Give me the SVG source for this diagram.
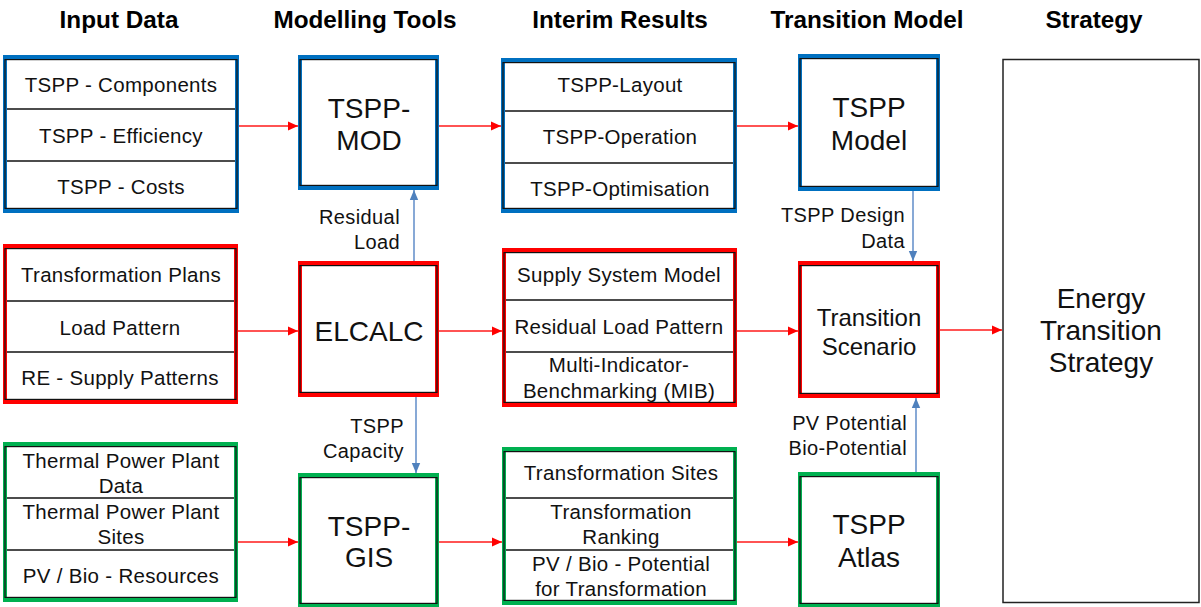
<svg xmlns="http://www.w3.org/2000/svg" width="1201" height="607" viewBox="0 0 1201 607">
  <style>
    .hdr { font-family: "Liberation Sans", Arial, sans-serif; font-weight: bold; font-size: 24.3px; fill: #000; text-anchor: middle; }
    .row { font-family: "Liberation Sans", Arial, sans-serif; font-size: 20.5px; letter-spacing: 0.3px; fill: #111; text-anchor: middle; }
    .big { font-family: "Liberation Sans", Arial, sans-serif; font-size: 28px; fill: #111; text-anchor: middle; }
    .mid { font-family: "Liberation Sans", Arial, sans-serif; font-size: 24px; fill: #111; text-anchor: middle; }
    .lbl { font-family: "Liberation Sans", Arial, sans-serif; font-size: 20px; letter-spacing: 0.4px; fill: #111; text-anchor: end; }
    .frame { fill: #fff; stroke-width: 4; }
    .inner { fill: none; stroke: #111; stroke-width: 1.2; }
    .div { stroke: #111; stroke-width: 1.3; }
    .blue { stroke: #0070C0; }
    .red { stroke: #FF0000; }
    .green { stroke: #00B050; }
    .flow { stroke: #FF1A1A; stroke-width: 1.4; fill: none; marker-end: url(#redHead); }
    .feed { stroke: #5585C5; stroke-width: 1.4; fill: none; marker-end: url(#blueHead); }
  </style>
  <defs>
    <marker id="redHead" markerUnits="userSpaceOnUse" markerWidth="12" markerHeight="10" refX="10" refY="5" orient="auto">
      <path d="M0,0.5 L10,5 L0,9.5 Z" fill="#FF0000"/>
    </marker>
    <marker id="blueHead" markerUnits="userSpaceOnUse" markerWidth="12" markerHeight="10" refX="10" refY="5" orient="auto">
      <path d="M0,0.8 L10,5 L0,9.2 Z" fill="#4F81BD"/>
    </marker>
  </defs>

  <rect width="1201" height="607" fill="#fff"/>

  <!-- column headings -->
  <g id="headings">
    <text class="hdr" x="119" y="28">Input Data</text>
    <text class="hdr" x="365" y="28">Modelling Tools</text>
    <text class="hdr" x="620" y="28">Interim Results</text>
    <text class="hdr" x="867" y="28">Transition Model</text>
    <text class="hdr" x="1094" y="28">Strategy</text>
  </g>

  <!-- connectors -->
  <g id="connectors">
    <line class="flow" x1="239" y1="126" x2="298" y2="126"/>
    <line class="flow" x1="439" y1="126" x2="501" y2="126"/>
    <line class="flow" x1="737" y1="126" x2="798" y2="126"/>
    <line class="flow" x1="238" y1="331" x2="298" y2="331"/>
    <line class="flow" x1="439" y1="331" x2="502" y2="331"/>
    <line class="flow" x1="737" y1="331" x2="798" y2="331"/>
    <line class="flow" x1="940" y1="330" x2="1002" y2="330"/>
    <line class="flow" x1="238" y1="542" x2="298" y2="542"/>
    <line class="flow" x1="439" y1="542" x2="502" y2="542"/>
    <line class="flow" x1="737" y1="542" x2="798" y2="542"/>
    <line class="feed" x1="414" y1="261" x2="414" y2="190"/>
    <line class="feed" x1="416" y1="397" x2="416" y2="473"/>
    <line class="feed" x1="913" y1="191" x2="913" y2="261"/>
    <line class="feed" x1="916" y1="472" x2="916" y2="398"/>
    <text class="lbl" x="400" y="224">Residual</text>
    <text class="lbl" x="400" y="249">Load</text>
    <text class="lbl" x="404" y="433">TSPP</text>
    <text class="lbl" x="404" y="458">Capacity</text>
    <text class="lbl" x="905" y="222">TSPP Design</text>
    <text class="lbl" x="905" y="248">Data</text>
    <text class="lbl" x="907" y="430">PV Potential</text>
    <text class="lbl" x="907" y="455">Bio-Potential</text>
  </g>

  <!-- blue row -->
  <g id="tspp-input">
    <rect class="frame blue" x="5" y="57" width="232" height="154"/>
    <rect class="inner" x="5" y="59.6" width="232" height="148.8"/>
    <line class="div" x1="7" y1="109" x2="235" y2="109"/>
    <line class="div" x1="7" y1="161" x2="235" y2="161"/>
    <text class="row" x="121" y="92">TSPP - Components</text>
    <text class="row" x="121" y="143">TSPP - Efficiency</text>
    <text class="row" x="121" y="194">TSPP - Costs</text>
  </g>
  <g id="tspp-mod">
    <rect class="frame blue" x="300" y="57" width="137" height="131"/>
    <rect class="inner" x="300" y="59.6" width="137" height="125.8"/>
    <text class="big" x="369" y="118">TSPP-</text>
    <text class="big" x="369" y="150">MOD</text>
  </g>
  <g id="tspp-results">
    <rect class="frame blue" x="503" y="60" width="232" height="151"/>
    <rect class="inner" x="503" y="62.6" width="232" height="145.8"/>
    <line class="div" x1="505" y1="111" x2="733" y2="111"/>
    <line class="div" x1="505" y1="163" x2="733" y2="163"/>
    <text class="row" x="620" y="92">TSPP-Layout</text>
    <text class="row" x="620" y="144">TSPP-Operation</text>
    <text class="row" x="620" y="196">TSPP-Optimisation</text>
  </g>
  <g id="tspp-model">
    <rect class="frame blue" x="800" y="56" width="138" height="133"/>
    <rect class="inner" x="800" y="58.6" width="138" height="127.8"/>
    <text class="big" x="869" y="117">TSPP</text>
    <text class="big" x="869" y="150">Model</text>
  </g>

  <!-- red row -->
  <g id="load-input">
    <rect class="frame red" x="5" y="246" width="231" height="156"/>
    <rect class="inner" x="5" y="248.6" width="231" height="150.8"/>
    <line class="div" x1="7" y1="301" x2="234" y2="301"/>
    <line class="div" x1="7" y1="352" x2="234" y2="352"/>
    <text class="row" x="121" y="282">Transformation Plans</text>
    <text class="row" x="120" y="335">Load Pattern</text>
    <text class="row" x="120" y="385">RE - Supply Patterns</text>
  </g>
  <g id="elcalc">
    <rect class="frame red" x="300" y="263" width="137" height="132"/>
    <rect class="inner" x="300" y="265.6" width="137" height="126.8"/>
    <text class="big" x="369" y="341">ELCALC</text>
  </g>
  <g id="load-results">
    <rect class="frame red" x="504" y="250" width="231" height="155"/>
    <rect class="inner" x="504" y="252.6" width="231" height="149.8"/>
    <line class="div" x1="506" y1="300" x2="733" y2="300"/>
    <line class="div" x1="506" y1="352" x2="733" y2="352"/>
    <text class="row" x="619" y="282">Supply System Model</text>
    <text class="row" x="619" y="334">Residual Load Pattern</text>
    <text class="row" x="619" y="372">Multi-Indicator-</text>
    <text class="row" x="619" y="398">Benchmarking (MIB)</text>
  </g>
  <g id="transition-scenario">
    <rect class="frame red" x="800" y="263" width="138" height="133"/>
    <rect class="inner" x="800" y="265.6" width="138" height="127.8"/>
    <text class="mid" x="869" y="326">Transition</text>
    <text class="mid" x="869" y="355">Scenario</text>
  </g>

  <!-- green row -->
  <g id="site-input">
    <rect class="frame green" x="5" y="444" width="231" height="156"/>
    <rect class="inner" x="5" y="446.6" width="231" height="150.8"/>
    <line class="div" x1="7" y1="498" x2="234" y2="498"/>
    <line class="div" x1="7" y1="550" x2="234" y2="550"/>
    <text class="row" x="121" y="468">Thermal Power Plant</text>
    <text class="row" x="121" y="493">Data</text>
    <text class="row" x="121" y="519">Thermal Power Plant</text>
    <text class="row" x="121" y="544">Sites</text>
    <text class="row" x="121" y="583">PV / Bio - Resources</text>
  </g>
  <g id="tspp-gis">
    <rect class="frame green" x="300" y="475" width="137" height="131"/>
    <rect class="inner" x="300" y="477.6" width="137" height="125.8"/>
    <text class="big" x="369" y="536">TSPP-</text>
    <text class="big" x="369" y="567">GIS</text>
  </g>
  <g id="site-results">
    <rect class="frame green" x="504" y="449" width="231" height="154"/>
    <rect class="inner" x="504" y="451.6" width="231" height="148.8"/>
    <line class="div" x1="506" y1="498" x2="733" y2="498"/>
    <line class="div" x1="506" y1="550" x2="733" y2="550"/>
    <text class="row" x="621" y="480">Transformation Sites</text>
    <text class="row" x="621" y="519">Transformation</text>
    <text class="row" x="621" y="544">Ranking</text>
    <text class="row" x="621" y="571">PV / Bio - Potential</text>
    <text class="row" x="621" y="596">for Transformation</text>
  </g>
  <g id="tspp-atlas">
    <rect class="frame green" x="800" y="474" width="138" height="132"/>
    <rect class="inner" x="800" y="476.6" width="138" height="126.8"/>
    <text class="big" x="869" y="534">TSPP</text>
    <text class="big" x="869" y="567">Atlas</text>
  </g>

  <!-- strategy -->
  <g id="strategy">
    <rect x="1003" y="59.5" width="196" height="543" fill="#fff" stroke="#222" stroke-width="1.5"/>
    <text class="big" x="1101" y="308">Energy</text>
    <text class="big" x="1101" y="340">Transition</text>
    <text class="big" x="1101" y="372">Strategy</text>
  </g>
</svg>
